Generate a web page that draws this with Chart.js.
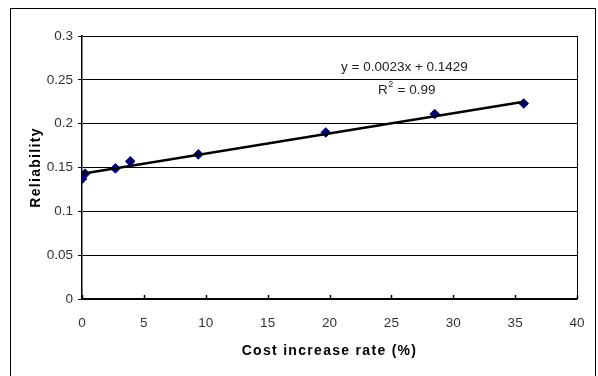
<!DOCTYPE html>
<html><head><meta charset="utf-8">
<script src="https://cdn.jsdelivr.net/npm/chart.js@4"></script>
<style>
html,body{margin:0;padding:0;background:#fff;}
#wrap{position:relative;width:598px;height:376px;overflow:hidden;}
#frame{position:absolute;left:10px;top:8px;width:586px;height:400px;border:1px solid #000;box-sizing:border-box;}
canvas{position:absolute;left:0;top:0;}
</style></head>
<body>
<div id="wrap"><div id="frame"></div><canvas id="c" width="598" height="376"></canvas></div>
<script>
const costIncrease = [0.0, 0.25, 2.7, 3.9, 9.4, 19.7, 28.5, 35.7];
const reliability  = [0.137, 0.143, 0.149, 0.157, 0.165, 0.190, 0.211, 0.223];
const trendX = [0, 35.7];
const trendY = [0.1429, 0.2250];
const xTicks = [0, 5, 10, 15, 20, 25, 30, 35, 40];
const yTicks = [0, 0.05, 0.1, 0.15, 0.2, 0.25, 0.3];
const xTitle = 'Cost increase rate (%)';
const yTitle = 'Reliability';
const eqText = 'y = 0.0023x + 0.1429';
const r2Text = ['R', '2', ' = 0.99'];

const FONT = '"Liberation Sans", Arial, sans-serif';

const extras = {
  id: 'extras',
  afterDraw(chart) {
    const ctx = chart.ctx, a = chart.chartArea;
    const xs = chart.scales.x;
    ctx.save();
    ctx.strokeStyle = '#000'; ctx.lineWidth = 1;
    ctx.beginPath();
    ctx.moveTo(Math.round(a.right) + 0.5, a.top);
    ctx.lineTo(Math.round(a.right) + 0.5, a.bottom);
    ctx.stroke();
    ctx.lineWidth = 1.5;
    xs.ticks.forEach((t, i) => {
      const px = Math.round(xs.getPixelForTick(i)) + 0.5;
      ctx.beginPath(); ctx.moveTo(px, a.bottom); ctx.lineTo(px, a.bottom - 4); ctx.stroke();
    });
    ctx.fillStyle = '#000';
    ctx.font = 'bold 14px "Liberation Sans", Arial, sans-serif';
    ctx.letterSpacing = '1.3px';
    ctx.textAlign = 'center'; ctx.textBaseline = 'middle';
    ctx.fillText(xTitle, (a.left + a.right) / 2, 351);
    ctx.save();
    ctx.translate(36, (a.top + a.bottom) / 2);
    ctx.rotate(-Math.PI / 2);
    ctx.fillText(yTitle, 0, 0);
    ctx.restore();
    ctx.letterSpacing = '0px';
    ctx.font = '13.5px ' + FONT;
    ctx.fillStyle = '#222';
    ctx.textBaseline = 'alphabetic';
    ctx.textAlign = 'left';
    ctx.fillText(eqText, 341, 71);
    let x = 378;
    ctx.fillText(r2Text[0], x, 94); x += ctx.measureText(r2Text[0]).width;
    ctx.font = '9px ' + FONT;
    ctx.fillText(r2Text[1], x + 0.5, 87); x += ctx.measureText(r2Text[1]).width + 1;
    ctx.font = '13.5px ' + FONT;
    ctx.fillText(r2Text[2], x, 94);
    ctx.restore();
  }
};

new Chart(document.getElementById('c'), {
  type: 'scatter',
  data: {
    datasets: [
      {
        label: 'Trend',
        data: trendX.map((v, i) => ({x: v, y: trendY[i]})),
        showLine: true,
        borderColor: '#000',
        borderWidth: 2.6,
        pointRadius: 0,
        order: 0
      },
      {
        label: 'Reliability',
        data: costIncrease.map((v, i) => ({x: v, y: reliability[i]})),
        pointStyle: 'rectRot',
        pointRadius: 4.8,
        backgroundColor: '#00007a',
        borderColor: '#00007a',
        borderWidth: 1,
        order: 1
      }
    ]
  },
  options: {
    responsive: false,
    animation: false,
    devicePixelRatio: 1,
    layout: { padding: { left: 0, top: 36, right: 21, bottom: 0 } },
    plugins: { legend: { display: false }, tooltip: { enabled: false } },
    scales: {
      x: {
        type: 'linear', min: 0, max: 40,
        afterBuildTicks: s => { s.ticks = xTicks.map(v => ({value: v})); },
        afterFit: s => { s.height = 77; },
        grid: { display: false },
        border: { display: true, color: '#000', width: 1.5 },
        ticks: { padding: 8, color: '#333', font: { family: FONT, size: 13.5 }, maxRotation: 0, autoSkip: false }
      },
      y: {
        type: 'linear', min: 0, max: 0.3,
        afterBuildTicks: s => { s.ticks = yTicks.map(v => ({value: v})); },
        afterFit: s => { s.width = 82; },
        grid: { color: '#000', lineWidth: 1, tickLength: 4, drawTicks: true },
        border: { display: true, color: '#000', width: 1.5 },
        ticks: { padding: 5, color: '#333', font: { family: FONT, size: 13.5 },
                 callback: v => String(v) }
      }
    }
  },
  plugins: [extras]
});
</script>
</body></html>
